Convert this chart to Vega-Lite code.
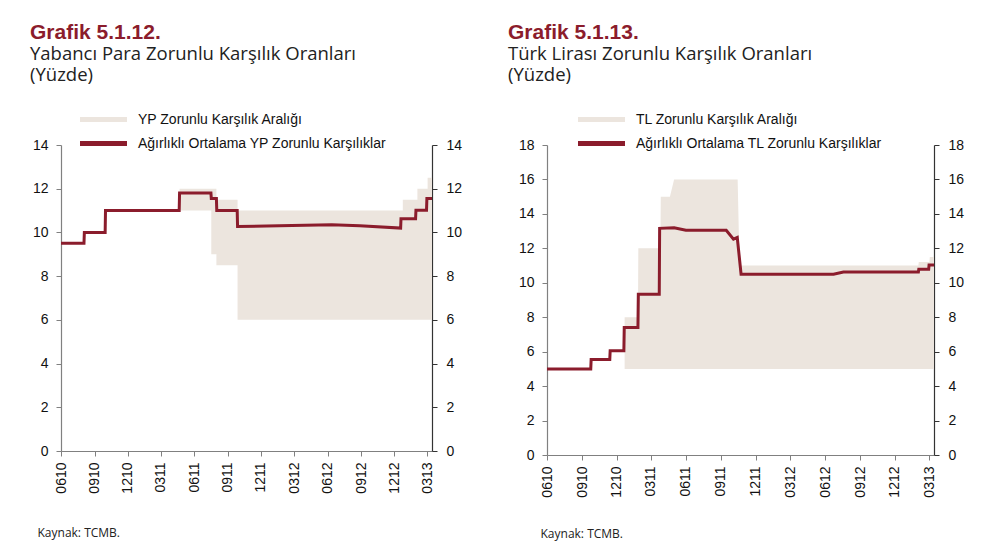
{
  "$schema": "https://vega.github.io/schema/vega-lite/v6.json",
  "background": "white",
  "padding": {"left": 30, "top": 21, "right": 5, "bottom": 5},
  "spacing": 46,
  "config": {
    "font": "Liberation Sans",
    "view": {"stroke": null},
    "axis": {"grid": false, "labelFont": "Liberation Sans", "labelFontSize": 14, "labelColor": "#111111", "tickSize": 5, "domainColor": "#808080", "tickColor": "#808080", "domainWidth": 1.2},
    "axisX": {"labelOverlap": false, "labelSeparation": -20},
    "legend": {"orient": "none", "title": null, "labelFont": "Liberation Sans", "labelFontSize": 14, "labelColor": "#111111", "labelLimit": 0, "symbolType": "M-4.7,0H4.7", "symbolSize": 100, "symbolStrokeWidth": 5, "rowPadding": 3, "labelOffset": 24, "symbolOpacity": 1}
  },
  "hconcat": [
    {
      "width": 371,
      "height": 306,
      "title": {"text": "Grafik 5.1.12.", "subtitle": ["Yabancı Para Zorunlu Karşılık Oranları", "(Yüzde)"], "anchor": "start", "frame": "group", "dx": -31, "offset": 28, "font": "Liberation Sans", "fontSize": 21, "fontWeight": "bold", "color": "#8B1C2C", "subtitleFont": "Open Sans", "subtitleFontSize": 18.5, "subtitleColor": "#222222", "subtitlePadding": 2, "subtitleLineHeight": 21},
      "encoding": {
        "x": {"field": "date", "type": "temporal",
          "scale": {"type": "utc", "domain": [{"year": 2010, "month": 6, "date": 1, "utc": true}, {"year": 2013, "month": 3, "date": 14, "utc": true}]},
          "axis": {"format": "%m%y", "labelAngle": -90, "labelPadding": 6, "labelOverlap": false, "labelSeparation": -20, "labelFlush": false, "labelBound": false,
            "values": [
              {"year": 2010, "month": 6, "date": 1, "utc": true},
              {"year": 2010, "month": 9, "date": 1, "utc": true},
              {"year": 2010, "month": 12, "date": 1, "utc": true},
              {"year": 2011, "month": 3, "date": 1, "utc": true},
              {"year": 2011, "month": 6, "date": 1, "utc": true},
              {"year": 2011, "month": 9, "date": 1, "utc": true},
              {"year": 2011, "month": 12, "date": 1, "utc": true},
              {"year": 2012, "month": 3, "date": 1, "utc": true},
              {"year": 2012, "month": 6, "date": 1, "utc": true},
              {"year": 2012, "month": 9, "date": 1, "utc": true},
              {"year": 2012, "month": 12, "date": 1, "utc": true},
              {"year": 2013, "month": 3, "date": 1, "utc": true}
            ],
            "title": "Kaynak: TCMB.", "titleFont": "Open Sans", "titleFontSize": 12, "titleFontWeight": "normal", "titleColor": "#222222", "titleAnchor": "start", "titleAlign": "left", "titleBaseline": "alphabetic", "titleX": -24, "titleY": 85}
        }
      },
      "layer": [
        {
          "data": {"values": [
            {"date": "2011-04-22", "lo": 11, "hi": 12},
            {"date": "2011-07-18", "lo": 9, "hi": 12},
            {"date": "2011-08-01", "lo": 8.5, "hi": 11.5},
            {"date": "2011-09-28", "lo": 6, "hi": 11},
            {"date": "2012-12-24", "lo": 6, "hi": 11.5},
            {"date": "2013-02-02", "lo": 6, "hi": 12},
            {"date": "2013-03-02", "lo": 6, "hi": 12.5},
            {"date": "2013-03-14", "lo": 6, "hi": 12.5}
          ]},
          "mark": {"type": "area", "interpolate": "step-after", "color": "#ECE5DE", "opacity": 1},
          "encoding": {
            "y": {"field": "lo", "type": "quantitative", "scale": {"domain": [0, 14]},
              "axis": {"orient": "left", "title": null, "values": [0, 2, 4, 6, 8, 10, 12, 14], "labelPadding": 8}},
            "y2": {"field": "hi"}
          }
        },
        {
          "data": {"values": [
            {"date": "2010-06-01", "value": 9.5},
            {"date": "2010-08-03", "value": 9.5},
            {"date": "2010-08-04", "value": 10},
            {"date": "2010-09-30", "value": 10},
            {"date": "2010-10-01", "value": 11},
            {"date": "2011-04-21", "value": 11},
            {"date": "2011-04-22", "value": 11.8},
            {"date": "2011-07-17", "value": 11.8},
            {"date": "2011-07-18", "value": 11.55},
            {"date": "2011-08-01", "value": 11.55},
            {"date": "2011-08-02", "value": 11.0},
            {"date": "2011-09-27", "value": 11.0},
            {"date": "2011-09-28", "value": 10.27},
            {"date": "2012-02-24", "value": 10.32},
            {"date": "2012-06-12", "value": 10.35},
            {"date": "2012-08-28", "value": 10.3},
            {"date": "2012-12-18", "value": 10.2},
            {"date": "2012-12-19", "value": 10.63},
            {"date": "2013-01-28", "value": 10.63},
            {"date": "2013-01-29", "value": 11.02},
            {"date": "2013-02-27", "value": 11.02},
            {"date": "2013-02-28", "value": 11.55},
            {"date": "2013-03-14", "value": 11.55}
          ]},
          "mark": {"type": "line", "strokeWidth": 3, "interpolate": "linear", "strokeJoin": "miter"},
          "encoding": {
            "y": {"field": "value", "type": "quantitative",
              "axis": {"orient": "right", "title": null, "values": [0, 2, 4, 6, 8, 10, 12, 14], "labelPadding": 9, "domainColor": "#333333", "tickColor": "#333333"}},
            "color": {"datum": "Ağırlıklı Ortalama YP Zorunlu Karşılıklar", "type": "nominal",
              "scale": {"domain": ["YP Zorunlu Karşılık Aralığı", "Ağırlıklı Ortalama YP Zorunlu Karşılıklar"], "range": ["#ECE5DE", "#8B1C2C"]},
              "legend": {"legendX": 35, "legendY": -33, "labelOffset": 27}}
          }
        }
      ],
      "resolve": {"axis": {"y": "independent"}}
    },
    {
      "width": 387,
      "height": 310,
      "title": {"text": "Grafik 5.1.13.", "subtitle": ["Türk Lirası Zorunlu Karşılık Oranları", "(Yüzde)"], "anchor": "start", "frame": "group", "dx": -39, "offset": 28, "font": "Liberation Sans", "fontSize": 21, "fontWeight": "bold", "color": "#8B1C2C", "subtitleFont": "Open Sans", "subtitleFontSize": 18.5, "subtitleColor": "#222222", "subtitlePadding": 2, "subtitleLineHeight": 21},
      "encoding": {
        "x": {"field": "date", "type": "temporal",
          "scale": {"type": "utc", "domain": [{"year": 2010, "month": 6, "date": 1, "utc": true}, {"year": 2013, "month": 3, "date": 14, "utc": true}]},
          "axis": {"format": "%m%y", "labelAngle": -90, "labelPadding": 6, "labelOverlap": false, "labelSeparation": -20, "labelFlush": false, "labelBound": false,
            "values": [
              {"year": 2010, "month": 6, "date": 1, "utc": true},
              {"year": 2010, "month": 9, "date": 1, "utc": true},
              {"year": 2010, "month": 12, "date": 1, "utc": true},
              {"year": 2011, "month": 3, "date": 1, "utc": true},
              {"year": 2011, "month": 6, "date": 1, "utc": true},
              {"year": 2011, "month": 9, "date": 1, "utc": true},
              {"year": 2011, "month": 12, "date": 1, "utc": true},
              {"year": 2012, "month": 3, "date": 1, "utc": true},
              {"year": 2012, "month": 6, "date": 1, "utc": true},
              {"year": 2012, "month": 9, "date": 1, "utc": true},
              {"year": 2012, "month": 12, "date": 1, "utc": true},
              {"year": 2013, "month": 3, "date": 1, "utc": true}
            ],
            "title": "Kaynak: TCMB.", "titleFont": "Open Sans", "titleFontSize": 12, "titleFontWeight": "normal", "titleColor": "#222222", "titleAnchor": "start", "titleAlign": "left", "titleBaseline": "alphabetic", "titleX": -7, "titleY": 82}
        }
      },
      "layer": [
        {
          "data": {"values": [
            {"date": "2010-12-22", "lo": 5, "hi": 8},
            {"date": "2011-01-26", "lo": 5, "hi": 8},
            {"date": "2011-01-27", "lo": 5, "hi": 12},
            {"date": "2011-03-26", "lo": 5, "hi": 12},
            {"date": "2011-03-27", "lo": 5, "hi": 15},
            {"date": "2011-04-20", "lo": 5, "hi": 15},
            {"date": "2011-05-01", "lo": 5, "hi": 16},
            {"date": "2011-10-15", "lo": 5, "hi": 16},
            {"date": "2011-10-20", "lo": 5, "hi": 11},
            {"date": "2013-02-01", "lo": 5, "hi": 11},
            {"date": "2013-02-02", "lo": 5, "hi": 11.2},
            {"date": "2013-03-02", "lo": 5, "hi": 11.2},
            {"date": "2013-03-03", "lo": 5, "hi": 11.5},
            {"date": "2013-03-14", "lo": 5, "hi": 11.5}
          ]},
          "mark": {"type": "area", "interpolate": "linear", "color": "#ECE5DE", "opacity": 1},
          "encoding": {
            "y": {"field": "lo", "type": "quantitative", "scale": {"domain": [0, 18]},
              "axis": {"orient": "left", "title": null, "values": [0, 2, 4, 6, 8, 10, 12, 14, 16, 18], "labelPadding": 8}},
            "y2": {"field": "hi"}
          }
        },
        {
          "data": {"values": [
            {"date": "2010-06-01", "value": 5},
            {"date": "2010-09-24", "value": 5},
            {"date": "2010-09-25", "value": 5.55},
            {"date": "2010-11-13", "value": 5.55},
            {"date": "2010-11-14", "value": 6.05},
            {"date": "2010-12-20", "value": 6.05},
            {"date": "2010-12-21", "value": 7.4},
            {"date": "2011-01-26", "value": 7.4},
            {"date": "2011-01-27", "value": 9.33},
            {"date": "2011-03-23", "value": 9.33},
            {"date": "2011-03-24", "value": 13.16},
            {"date": "2011-05-01", "value": 13.2},
            {"date": "2011-06-01", "value": 13.05},
            {"date": "2011-09-15", "value": 13.05},
            {"date": "2011-10-04", "value": 12.53},
            {"date": "2011-10-14", "value": 12.63},
            {"date": "2011-10-24", "value": 10.5},
            {"date": "2012-06-23", "value": 10.5},
            {"date": "2012-07-19", "value": 10.63},
            {"date": "2013-02-01", "value": 10.63},
            {"date": "2013-02-02", "value": 10.78},
            {"date": "2013-02-28", "value": 10.78},
            {"date": "2013-03-01", "value": 11.03},
            {"date": "2013-03-14", "value": 11.03}
          ]},
          "mark": {"type": "line", "strokeWidth": 3, "interpolate": "linear", "strokeJoin": "miter"},
          "encoding": {
            "y": {"field": "value", "type": "quantitative",
              "axis": {"orient": "right", "title": null, "values": [0, 2, 4, 6, 8, 10, 12, 14, 16, 18], "labelPadding": 9, "domainColor": "#333333", "tickColor": "#333333"}},
            "color": {"datum": "Ağırlıklı Ortalama TL Zorunlu Karşılıklar", "type": "nominal",
              "scale": {"domain": ["TL Zorunlu Karşılık Aralığı", "Ağırlıklı Ortalama TL Zorunlu Karşılıklar"], "range": ["#ECE5DE", "#8B1C2C"]},
              "legend": {"legendX": 47, "legendY": -33, "labelOffset": 27}}
          }
        }
      ],
      "resolve": {"axis": {"y": "independent"}}
    }
  ],
  "resolve": {"scale": {"color": "independent"}, "legend": {"color": "independent"}}
}
